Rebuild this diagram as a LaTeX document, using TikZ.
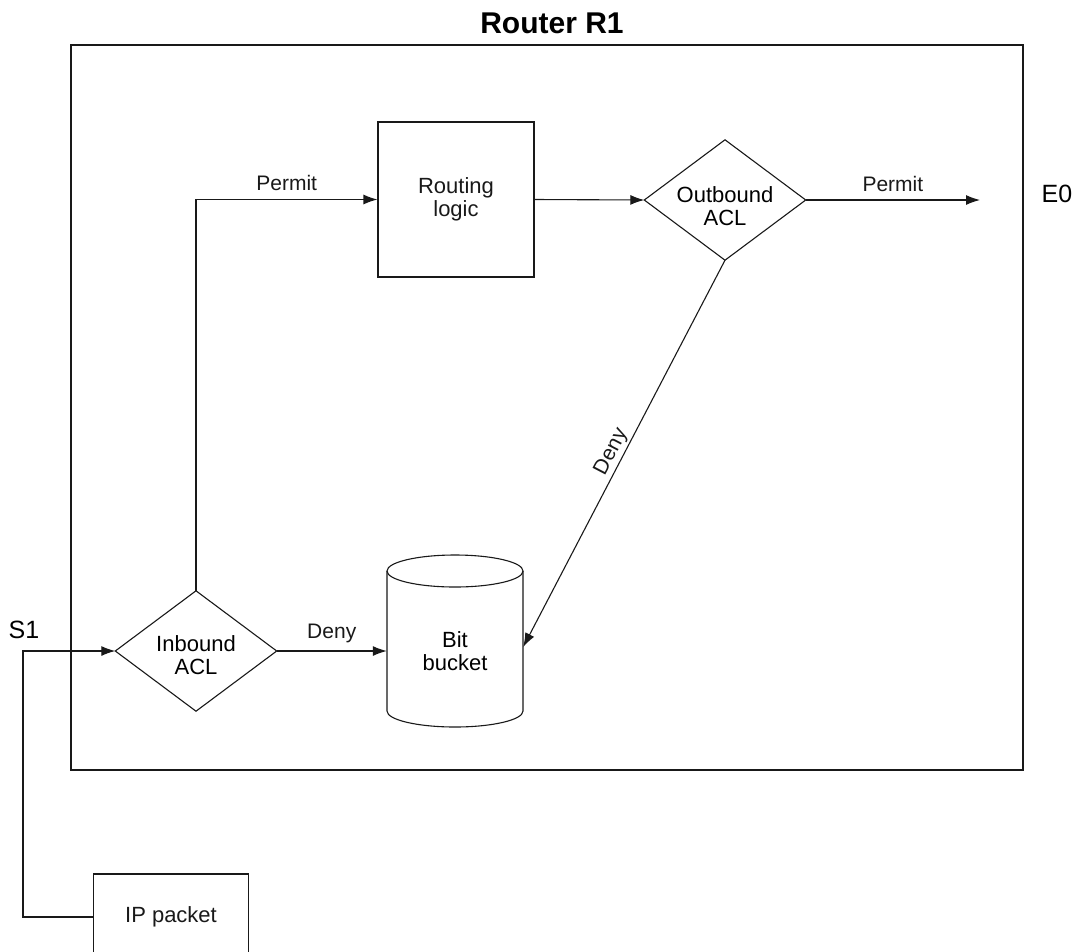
\documentclass[tikz,border=0pt]{standalone}
\usepackage{fontspec}
\setmainfont{Liberation Sans}
\usetikzlibrary{arrows.meta}
\begin{document}
\begin{tikzpicture}[x=1pt,y=-1pt,
  every node/.style={font=\fontsize{21}{23}\selectfont, inner sep=0pt},
  thinline/.style={line width=1.1pt, black!90},
  flow/.style={thinline, -{Latex[length=14pt,width=10pt]}},
  box/.style={draw, thinline, rectangle, align=center, font=\fontsize{22}{23}\selectfont},
  lbl/.style={inner sep=2pt},
  iface/.style={font=\fontsize{25}{28}\selectfont}]
\useasboundingbox (0,0) rectangle (1083,951);
\begin{scope}
\clip (0,0) rectangle (1083,951);

% router frame and title
\node[draw, thinline, minimum width=952pt, minimum height=725pt] (r1) at (547,407.5) {};
\node[font=\fontsize{30}{32}\selectfont\bfseries] (title) at (552,23) {Router R1};

% processing elements
\node[box, minimum width=156pt, minimum height=155pt] (route) at (456,199.5) {Routing\\logic};
\node[box, minimum width=155pt, minimum height=86pt] (ip) at (171,917) {IP packet};

% decision diamonds: outline drawn from the node's anchors, text placed inside
\node[minimum width=161pt, minimum height=120pt] (in) at (196,651) {};
\node[minimum width=161pt, minimum height=120pt] (out) at (725,200) {};
\foreach \d in {in,out}
  \draw[thinline] (\d.north) -- (\d.east) -- (\d.south) -- (\d.west) -- cycle;
\node[align=center, font=\fontsize{22}{23}\selectfont] (intext) at (196,655) {Inbound\\ACL};
\node[align=center, font=\fontsize{22}{23}\selectfont] (outtext) at (725,206) {Outbound\\ACL};

% bit bucket cylinder
\node[minimum width=136pt, minimum height=140pt, align=center, font=\fontsize{22}{23}\selectfont] (bucket) at (455,651) {Bit\\bucket};
\draw[thinline] (455,571) ellipse [x radius=68pt, y radius=16pt];
\draw[thinline] (387,571) -- (387,711) arc[start angle=180, end angle=360, x radius=68pt, y radius=16pt] -- (523,571);

% interface labels and free ends
\node[iface] (s1) at (24,630) {S1};
\node[iface] (e0) at (1057,194) {E0};
\coordinate (s1corner) at (23,651);
\coordinate (e0end) at (980,200);

% connectors
\draw[flow] (ip.west) -| (s1corner) -- (in.west);
\draw[flow] (in.north) |- node[lbl, pos=0.75, above=6pt] {Permit} (route.west);
\draw[flow] (in.east) -- node[lbl, above=6pt] {Deny} (bucket.west);
\draw[flow] (route.east) -- (out.west);
\draw[flow] (out.east) -- node[lbl, above=6pt] {Permit} (e0end);
\draw[flow] (out.south) -- node[lbl, sloped, pos=0.51, above=0pt] {Deny} ([yshift=4pt]bucket.east);
\end{scope}
\end{tikzpicture}
\end{document}
